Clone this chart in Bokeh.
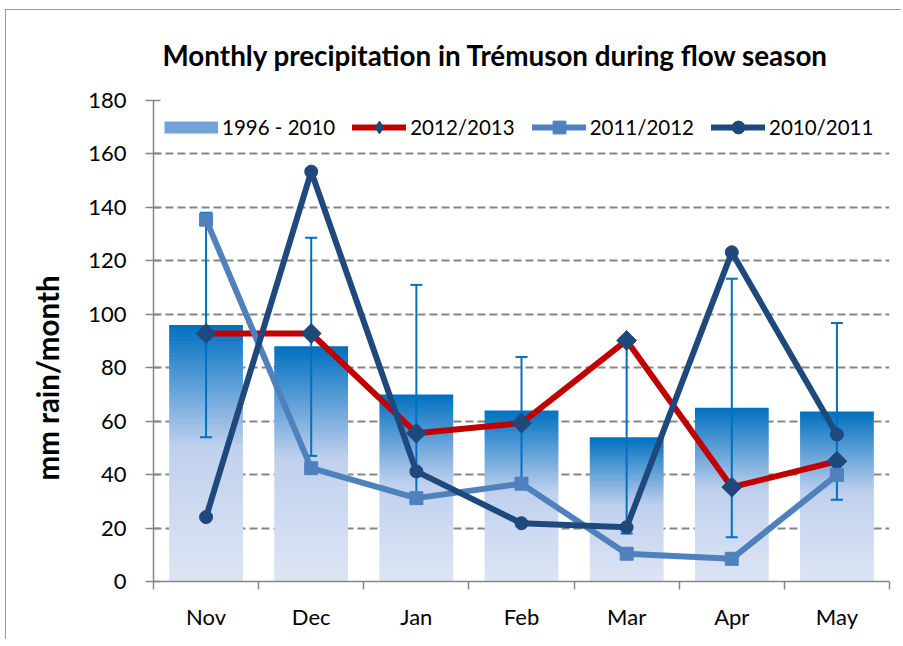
import numpy as np
from bokeh.plotting import figure
from bokeh.models import (ColumnDataSource, Range1d, FixedTicker, Legend, LegendItem, Title)
from bokeh.embed import file_html
from bokeh.resources import INLINE

# ---------------- data ----------------
months = ["Nov", "Dec", "Jan", "Feb", "Mar", "Apr", "May"]
mean_1996_2010 = [96, 88, 70, 64, 54, 65, 63.6]
err_low_1996_2010 = [54, 47, 30, 36, 18, 16.6, 30.6]
err_high_1996_2010 = [138, 128.6, 111, 84, 90, 113.3, 96.7]
s_2012_2013 = [92.8, 92.8, 55.5, 59.3, 90.2, 35.3, 45.0]
s_2011_2012 = [135.4, 42.4, 31.2, 36.6, 10.4, 8.5, 39.9]
s_2010_2011 = [24.1, 153.4, 41.2, 21.8, 20.3, 123.2, 55.0]
y_ticks = [0, 20, 40, 60, 80, 100, 120, 140, 160, 180]

title_text = "Monthly precipitation in Trémuson during flow season"
y_label_text = "mm rain/month"

FONT = "Lato"
GRID = "#868686"

x = [i + 0.5 for i in range(len(months))]

p = figure(width=896, height=630, output_backend="svg", toolbar_location=None,
           x_range=Range1d(0, len(months)), y_range=Range1d(y_ticks[0], y_ticks[-1]),
           min_border_left=146, min_border_right=13, min_border_top=90, min_border_bottom=59)
p.margin = (9, 0, 0, 5)
p.styles = {"border-left": "1px solid #9A9A9A", "border-top": "1px solid #9A9A9A"}
p.outline_line_color = None
p.background_fill_color = "white"
p.border_fill_color = "white"

# ---------------- gradient bars ----------------
stops = [(0.0, (0xDD, 0xE5, 0xF4)), (0.52, (0xC0, 0xD1, 0xEE)), (1.0, (0x00, 0x70, 0xC0))]

def grad_color(f):
    for (f0, c0), (f1, c1) in zip(stops[:-1], stops[1:]):
        if f0 <= f <= f1:
            t = (f - f0) / (f1 - f0)
            c = [int(round(a + (b - a) * t)) for a, b in zip(c0, c1)]
            return "#%02x%02x%02x" % tuple(c)
    return "#%02x%02x%02x" % stops[-1][1]

N = 80
bx, bb, bt, bc = [], [], [], []
for xi, v in zip(x, mean_1996_2010):
    for k in range(N):
        bx.append(xi)
        bb.append(v * k / N)
        bt.append(min(v, v * (k + 1.6) / N))
        bc.append(grad_color((k + 0.5) / N))
bar_src = ColumnDataSource(dict(x=bx, bottom=bb, top=bt, color=bc))
p.vbar(x="x", width=0.7, bottom="bottom", top="top", fill_color="color",
       line_color=None, source=bar_src)

# ---------------- error bars ----------------
EB = "#0070C0"
p.segment(x0=x, y0=err_low_1996_2010, x1=x, y1=err_high_1996_2010, line_color=EB, line_width=2)
p.scatter(x=x, y=err_low_1996_2010, marker="dash", size=12, line_color=EB, line_width=2)
p.scatter(x=x, y=err_high_1996_2010, marker="dash", size=12, line_color=EB, line_width=2)

# ---------------- lines ----------------
RED = "#C00000"
LIGHT = "#4F81BD"
DARK = "#1F497D"
LW = 6

l1 = p.line(x, s_2012_2013, line_color=RED, line_width=LW, line_join="round", line_cap="round")
m1 = p.scatter(x, s_2012_2013, marker="square", angle=np.pi / 4, size=14,
               fill_color=DARK, line_color=DARK)
l2 = p.line(x, s_2011_2012, line_color=LIGHT, line_width=LW, line_join="round", line_cap="round")
m2 = p.scatter(x, s_2011_2012, marker="square", size=13, fill_color=LIGHT, line_color=LIGHT)
l3 = p.line(x, s_2010_2011, line_color=DARK, line_width=LW, line_join="round", line_cap="round")
m3 = p.scatter(x, s_2010_2011, marker="circle", size=13, fill_color=DARK, line_color=DARK)

# legend proxies (not drawn in the plot)
sw = p.line(x, mean_1996_2010, line_color="#72A3DA", line_width=12, line_cap="butt", visible=False)
m1_leg = p.scatter(x, s_2012_2013, marker="diamond", size=14, fill_color=DARK,
                   line_color=DARK, visible=False)

legend = Legend(items=[
    LegendItem(label="1996 - 2010", renderers=[sw]),
    LegendItem(label="2012/2013", renderers=[l1, m1_leg]),
    LegendItem(label="2011/2012", renderers=[l2, m2]),
    LegendItem(label="2010/2011", renderers=[l3, m3]),
], orientation="horizontal", location="top_left", margin=11, padding=0,
    glyph_width=54, glyph_height=32, label_standoff=4, spacing=17,
    label_text_font=FONT, label_text_font_size="20.5px", label_text_color="black",
    border_line_color=None, background_fill_alpha=0, inactive_fill_alpha=0)
p.add_layout(legend)

# ---------------- axes ----------------
p.xaxis.ticker = FixedTicker(ticks=x, minor_ticks=list(range(len(months) + 1)))
p.xaxis.major_label_overrides = {xi: m for xi, m in zip(x, months)}
p.xaxis.major_tick_line_color = None
p.xaxis.major_tick_out = 0
p.xaxis.major_tick_in = 0
p.xaxis.minor_tick_line_color = GRID
p.xaxis.minor_tick_line_width = 1.5
p.xaxis.minor_tick_out = 8
p.xaxis.minor_tick_in = 0
p.xaxis.axis_line_color = GRID
p.xaxis.axis_line_width = 1.5
p.xaxis.major_label_text_font = FONT
p.xaxis.major_label_text_font_size = "22px"
p.xaxis.major_label_text_color = "black"
p.xaxis.major_label_standoff = 13

p.yaxis.ticker = FixedTicker(ticks=y_ticks)
p.yaxis.major_tick_line_color = GRID
p.yaxis.major_tick_line_width = 1.5
p.yaxis.major_tick_out = 8
p.yaxis.major_tick_in = 7
p.yaxis.minor_tick_line_color = None
p.yaxis.axis_line_color = GRID
p.yaxis.axis_line_width = 1.5
p.yaxis.major_label_text_font = FONT
p.yaxis.major_label_text_font_size = "22px"
p.yaxis.major_label_text_color = "black"
p.yaxis.major_label_standoff = 19

p.xgrid.grid_line_color = None
p.ygrid.ticker = FixedTicker(ticks=y_ticks)
p.ygrid.grid_line_color = GRID
p.ygrid.grid_line_width = 2
p.ygrid.grid_line_dash = "8 4"

# ---------------- texts ----------------
p.add_layout(Title(text=title_text, align="left", offset=9, standoff=53, vertical_align="top",
                   text_font=FONT, text_font_style="bold", text_font_size="27.8px",
                   text_color="black"), "above")
p.add_layout(Title(text=y_label_text, align="left", offset=101, standoff=42,
                   text_font=FONT, text_font_style="bold", text_font_size="29.5px",
                   text_color="black"), "left")

open("out.html", "w").write(file_html(p, INLINE))
